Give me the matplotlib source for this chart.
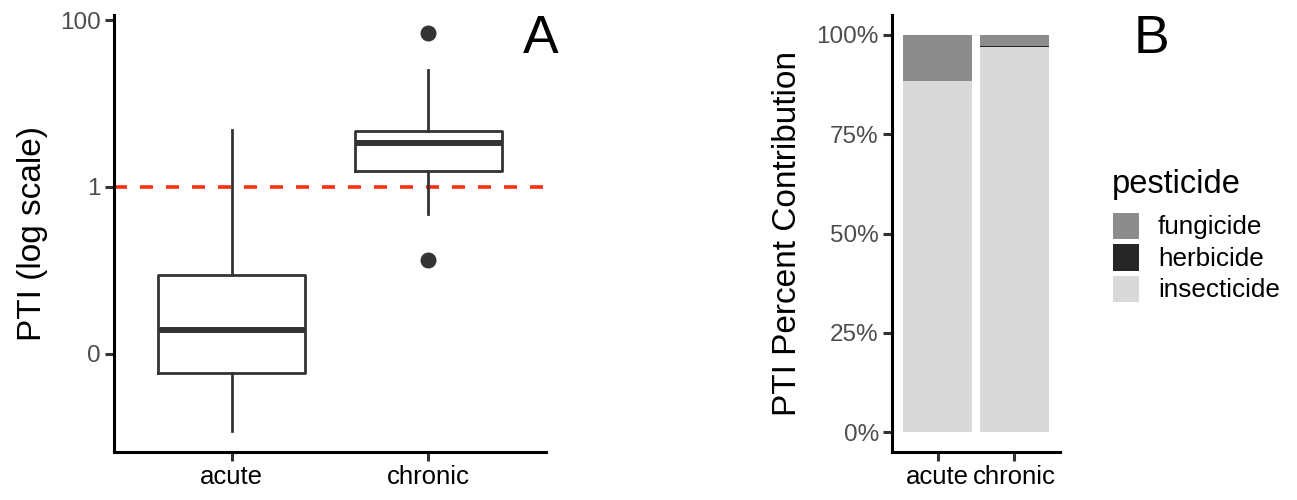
import matplotlib
matplotlib.use("Agg")
import matplotlib.pyplot as plt
from matplotlib.patches import Rectangle
import numpy as np

plt.rcParams['font.family'] = ['Liberation Sans', 'DejaVu Sans']

# ---- Panel A data (box plot stats, PTI log scale) ----
categories = ["acute", "chronic"]
whisker_low = [0.00118, 0.47]
q1 = [0.0059, 1.53]
median = [0.019, 3.35]
q3 = [0.087, 4.7]
whisker_high = [4.83, 25.2]
outliers = [[], [0.132, 69.4]]
threshold = 1.0
ytick_vals = [0.01, 1, 100]
ytick_labels = ["0", "1", "100"]

# ---- Panel B data (percent contribution) ----
pesticides = ["fungicide", "herbicide", "insecticide"]
insecticide_pct = [0.884, 0.969]
herbicide_pct = [0.000, 0.003]
fungicide_pct = [0.116, 0.028]
pct_ticks = [0, 0.25, 0.5, 0.75, 1.0]
pct_labels = ["0%", "25%", "50%", "75%", "100%"]
fill_colors = {"fungicide": "#8C8C8C", "herbicide": "#262626", "insecticide": "#D9D9D9"}

W, H = 1297, 500
fig = plt.figure(figsize=(W / 100, H / 100), dpi=100)

def rect(l, r, b, t):
    return [l / W, 1 - b / H, (r - l) / W, (b - t) / H]

line_c = "#333333"
tick_c = "#4D4D4D"
spine_w = 2.2

def style_axes(ax, ytick_size):
    for s in ["top", "right"]:
        ax.spines[s].set_visible(False)
    for s in ["left", "bottom"]:
        ax.spines[s].set_linewidth(spine_w)
        ax.spines[s].set_color("black")
        ax.spines[s].set_capstyle('projecting')
    ax.tick_params(axis='y', labelsize=ytick_size, labelcolor=tick_c, color=line_c,
                   width=spine_w, length=6.5, pad=3)
    ax.tick_params(axis='x', labelsize=18.5, labelcolor="black", color=line_c,
                   width=spine_w, length=6.5, pad=3)

# ---------------- Panel A ----------------
axA = fig.add_axes(rect(114, 546, 452, 15))
stats = []
for i, c in enumerate(categories):
    stats.append(dict(label=c, whislo=whisker_low[i], q1=q1[i], med=median[i],
                      q3=q3[i], whishi=whisker_high[i], fliers=outliers[i]))
axA.bxp(stats, positions=[1, 2], widths=0.75, showcaps=False,
        boxprops=dict(color=line_c, linewidth=2.0),
        whiskerprops=dict(color=line_c, linewidth=2.0),
        medianprops=dict(color=line_c, linewidth=4.3, solid_capstyle='butt'),
        flierprops=dict(marker='o', markerfacecolor=line_c, markeredgecolor=line_c,
                        markersize=10.5))
axA.axhline(threshold, color="#FF3010", linewidth=2.6, linestyle=(0, (3.6, 3.6)), zorder=0)
axA.set_yscale('log')
axA.set_ylim(10 ** -3.181, 10 ** 2.061)
axA.set_xlim(0.4, 2.6)
axA.set_yticks(ytick_vals)
axA.set_yticklabels(ytick_labels)
axA.minorticks_off()
axA.set_xticks([1, 2])
axA.set_xticklabels(categories)
axA.set_ylabel("PTI (log scale)", fontsize=24, color="black", labelpad=9)
style_axes(axA, 17.5)
fig.text(541 / W, 1 - 39 / H, "A", fontsize=38.5, ha='center', va='center')

# ---------------- Panel B ----------------
axB = fig.add_axes(rect(892, 1060, 452, 15))
x = np.arange(1, len(categories) + 1)
bottom = np.zeros(len(categories))
for name, vals in [("insecticide", insecticide_pct), ("herbicide", herbicide_pct),
                   ("fungicide", fungicide_pct)]:
    axB.bar(x, vals, width=0.9, bottom=bottom, color=fill_colors[name], linewidth=0)
    bottom = bottom + np.array(vals)
axB.set_xlim(0.4, 2.6)
axB.set_ylim(-0.05, 1.05)
axB.set_yticks(pct_ticks)
axB.set_yticklabels(pct_labels)
axB.set_xticks(x)
axB.set_xticklabels(categories)
axB.set_ylabel("PTI Percent Contribution", fontsize=24, color="black", labelpad=10)
style_axes(axB, 17.5)
fig.text(1152 / W, 1 - 39 / H, "B", fontsize=38.5, ha='center', va='center')

# ---------------- Legend (pesticide) ----------------
fig.text(1112 / W, 1 - 193 / H, "pesticide", fontsize=23.5, ha='left', va='baseline')
key_x, key_w, key_top, key_h, key_pitch = 1113, 26, 213, 26, 31.5
for i, p in enumerate(pesticides):
    top = key_top + i * key_pitch
    fig.patches.append(Rectangle((key_x / W, 1 - (top + key_h) / H), key_w / W, key_h / H,
                                 transform=fig.transFigure, facecolor=fill_colors[p],
                                 edgecolor='none'))
    fig.text(1158 / W, 1 - (top + key_h / 2 + 1) / H, p, fontsize=18.8,
             ha='left', va='center')

fig.savefig("out.png", dpi=100)
